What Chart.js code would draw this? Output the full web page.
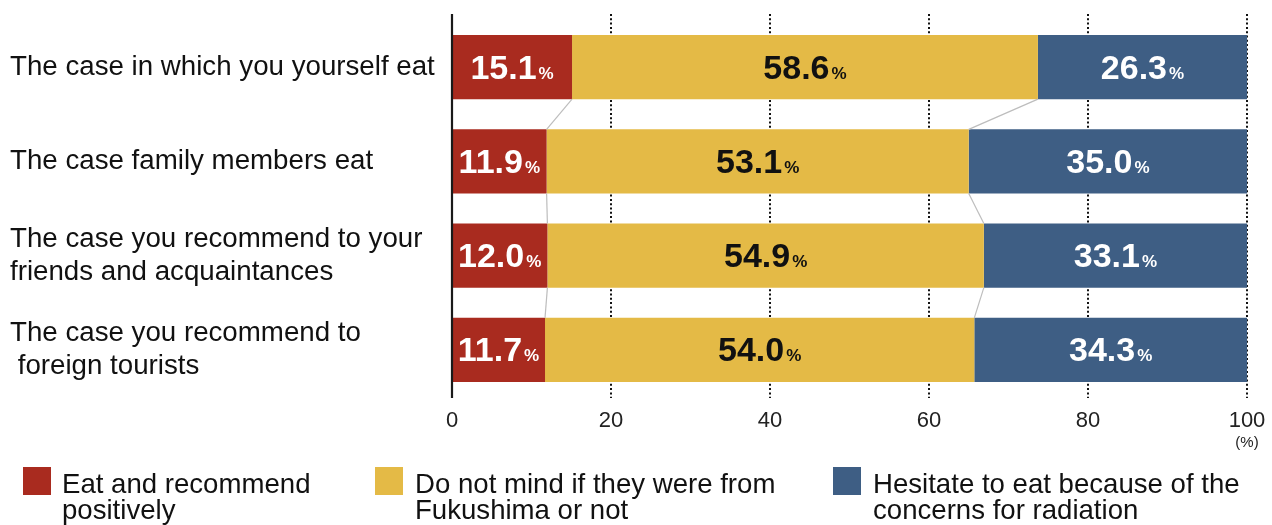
<!DOCTYPE html>
<html lang="en">
<head>
    <meta charset="UTF-8">
    <title>Fukushima food attitudes</title>
    <script src="https://cdn.jsdelivr.net/npm/chart.js"></script>
    <style>
        body {
            margin: 0;
            background: #fff;
            font-family: Arial, "Liberation Sans", Helvetica, sans-serif;
        }
        .wrap {
            position: relative;
            width: 1272px;
            height: 525px;
        }
        .legend-item {
            position: absolute;
            top: 467px;
            font-size: 27.6px;
            line-height: 26px;
            color: #111;
        }
        .legend-item .box {
            position: absolute;
            left: 0;
            top: 0;
            width: 28px;
            height: 28px;
        }
        .legend-item .txt {
            position: absolute;
            top: 4px;
            white-space: nowrap;
        }
    </style>
</head>
<body>
<div class="wrap">
    <canvas id="chart" width="1272" height="525"></canvas>
    <div id="legend"></div>
</div>

<script>
    // categories (multi-line where the original wraps)
    const categories = [
        'The case in which you yourself eat',
        'The case family members eat',
        ['The case you recommend to your', 'friends and acquaintances'],
        ['The case you recommend to', ' foreign tourists']
    ];
    const seriesNames = [
        ['Eat and recommend', 'positively'],
        ['Do not mind if they were from', 'Fukushima or not'],
        ['Hesitate to eat because of the', 'concerns for radiation']
    ];
    const positive = [15.1, 11.9, 12.0, 11.7];
    const notMind = [58.6, 53.1, 54.9, 54.0];
    const hesitate = [26.3, 35.0, 33.1, 34.3];
    const xTicks = [0, 20, 40, 60, 80, 100];

    const colors = ['#A92B1F', '#E4BA46', '#3E5E84'];
    const labelColors = ['#fff', '#111', '#fff'];
    const FONT = 'Arial, "Liberation Sans", Helvetica, sans-serif';

    // dotted grid + left axis line
    const gridPlugin = {
        id: 'grid',
        beforeDatasetsDraw(chart) {
            const {ctx, chartArea, scales} = chart;
            ctx.save();
            ctx.strokeStyle = '#111';
            ctx.lineWidth = 2;
            ctx.setLineDash([2, 2.3]);
            xTicks.slice(1).forEach(v => {
                const x = Math.round(scales.x.getPixelForValue(v));
                ctx.beginPath();
                ctx.moveTo(x, chartArea.top - 6);
                ctx.lineTo(x, chartArea.bottom + 1);
                ctx.stroke();
            });
            ctx.restore();
        },
        afterDatasetsDraw(chart) {
            const {ctx, chartArea, scales} = chart;
            ctx.save();
            // connector lines between bars
            ctx.strokeStyle = '#bdbdbd';
            ctx.lineWidth = 1.2;
            [0, 1].forEach(di => {
                const els = chart.getDatasetMeta(di).data;
                for (let i = 0; i < els.length - 1; i++) {
                    const a = els[i].getProps(['x', 'y', 'height'], true);
                    const b = els[i + 1].getProps(['x', 'y', 'height'], true);
                    ctx.beginPath();
                    ctx.moveTo(a.x, a.y + a.height / 2);
                    ctx.lineTo(b.x, b.y - b.height / 2);
                    ctx.stroke();
                }
            });
            // left axis line
            const x0 = scales.x.getPixelForValue(0);
            ctx.strokeStyle = '#1a1a1a';
            ctx.lineWidth = 2.2;
            ctx.beginPath();
            ctx.moveTo(x0, chartArea.top - 6);
            ctx.lineTo(x0, chartArea.bottom + 1);
            ctx.stroke();

            // value labels
            chart.data.datasets.forEach((ds, di) => {
                chart.getDatasetMeta(di).data.forEach((el, i) => {
                    const p = el.getProps(['x', 'y', 'base'], true);
                    const cx = (p.x + p.base) / 2;
                    const num = ds.data[i].toFixed(1);
                    ctx.font = 'bold 34px ' + FONT;
                    const wNum = ctx.measureText(num).width;
                    ctx.font = 'bold 17px ' + FONT;
                    const wPct = ctx.measureText('%').width;
                    const start = cx - (wNum + 2 + wPct) / 2;
                    const base = p.y + 11.5;
                    ctx.fillStyle = labelColors[di];
                    ctx.textAlign = 'left';
                    ctx.textBaseline = 'alphabetic';
                    ctx.font = 'bold 34px ' + FONT;
                    ctx.fillText(num, start, base);
                    ctx.font = 'bold 17px ' + FONT;
                    ctx.fillText('%', start + wNum + 2, base);
                });
            });

            // unit under the 100 tick
            ctx.fillStyle = '#222';
            ctx.font = '15px ' + FONT;
            ctx.textAlign = 'center';
            ctx.textBaseline = 'middle';
            ctx.fillText('(%)', scales.x.getPixelForValue(100), chartArea.bottom + 46);
            ctx.restore();
        }
    };

    const datasets = [positive, notMind, hesitate].map((d, i) => ({
        label: seriesNames[i].join(' '),
        data: d,
        backgroundColor: colors[i],
        borderWidth: 0,
        categoryPercentage: 0.68,
        barPercentage: 1
    }));

    new Chart(document.getElementById('chart'), {
        type: 'bar',
        data: { labels: categories, datasets: datasets },
        options: {
            indexAxis: 'y',
            responsive: false,
            animation: false,
            devicePixelRatio: 1,
            layout: { padding: { left: 10, right: 25, top: 20, bottom: 0 } },
            plugins: { legend: { display: false }, tooltip: { enabled: false } },
            scales: {
                x: {
                    stacked: true,
                    min: 0,
                    max: 100,
                    grid: { display: false, drawTicks: false },
                    border: { display: false },
                    ticks: {
                        stepSize: 20,
                        padding: 11,
                        color: '#222',
                        font: { family: FONT, size: 22 }
                    },
                    afterFit(scale) {
                        scale.height = 128;
                        scale.paddingLeft = 0;
                        scale.paddingRight = 0;
                    }
                },
                y: {
                    stacked: true,
                    grid: { display: false, drawTicks: false },
                    border: { display: false },
                    ticks: {
                        crossAlign: 'far',
                        color: '#111',
                        font: { family: FONT, size: 27.7, lineHeight: 1.2 }
                    },
                    afterFit(scale) {
                        scale.width = 442;
                        scale.paddingTop = 0;
                        scale.paddingBottom = 0;
                    }
                }
            }
        },
        plugins: [gridPlugin]
    });

    // legend (two-line labels)
    const legendPos = [[23, 62], [375, 415], [833, 873]];
    const legend = document.getElementById('legend');
    seriesNames.forEach((name, i) => {
        const item = document.createElement('div');
        item.className = 'legend-item';
        item.style.left = legendPos[i][0] + 'px';
        item.innerHTML = '<div class="box" style="background:' + colors[i] + '"></div>' +
            '<div class="txt" style="left:' + (legendPos[i][1] - legendPos[i][0]) + 'px">' +
            name[0] + '<br>' + name[1] + '</div>';
        legend.appendChild(item);
    });
</script>
</body>
</html>
